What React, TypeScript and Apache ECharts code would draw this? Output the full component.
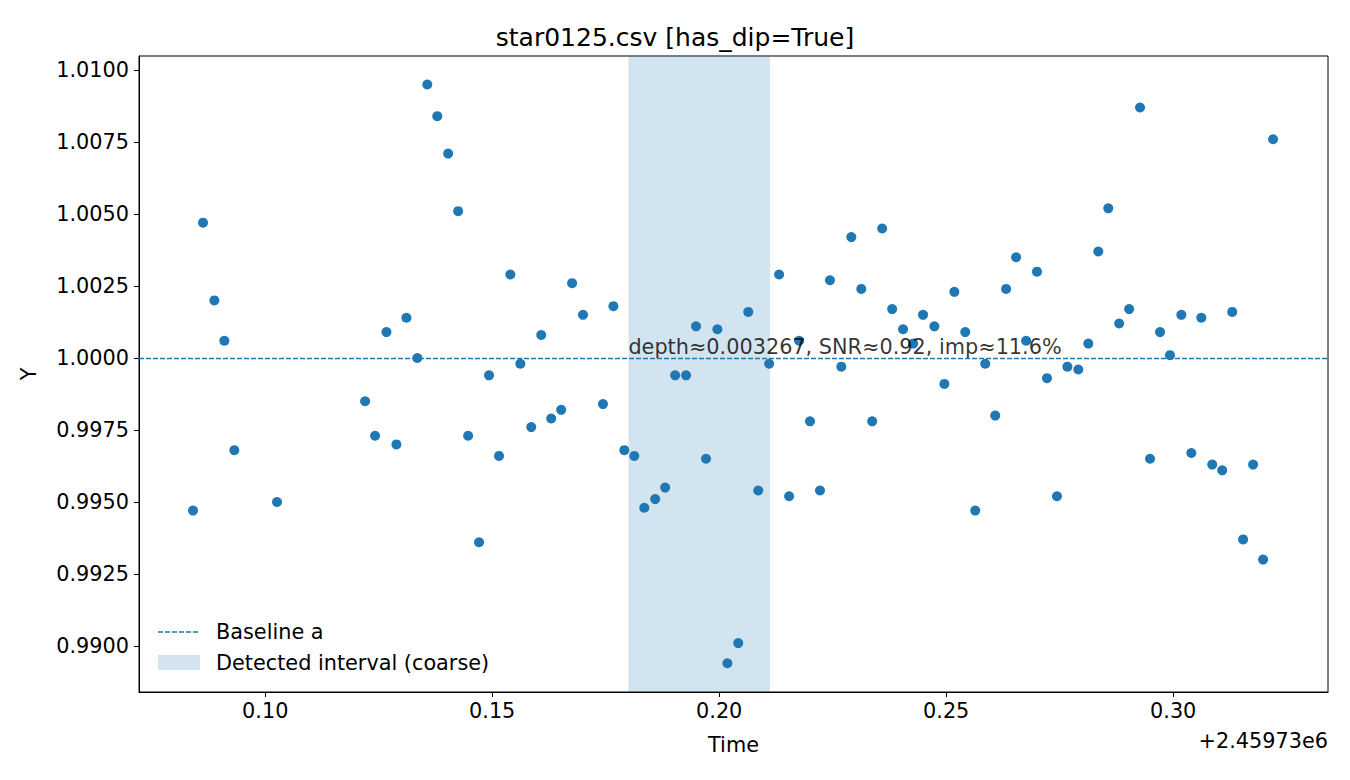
import { useEffect, useRef } from 'react';
import * as echarts from 'echarts';

const timeOffsets = [
  0.0841, 0.0863, 0.0888, 0.0910, 0.0932, 0.1026, 0.1220, 0.1242, 0.1267, 0.1289,
  0.1311, 0.1335, 0.1357, 0.1379, 0.1403, 0.1425, 0.1447, 0.1471, 0.1493, 0.1515,
  0.1540, 0.1562, 0.1586, 0.1608, 0.1630, 0.1652, 0.1676, 0.1700, 0.1744, 0.1767,
  0.1791, 0.1813, 0.1835, 0.1859, 0.1881, 0.1903, 0.1927, 0.1949, 0.1971, 0.1996,
  0.2018, 0.2042, 0.2064, 0.2086, 0.2110, 0.2132, 0.2154, 0.2176, 0.2200, 0.2222,
  0.2244, 0.2269, 0.2291, 0.2313, 0.2337, 0.2359, 0.2381, 0.2405, 0.2427, 0.2449,
  0.2474, 0.2496, 0.2518, 0.2542, 0.2564, 0.2586, 0.2608, 0.2632, 0.2654, 0.2676,
  0.2700, 0.2722, 0.2744, 0.2767, 0.2791, 0.2813, 0.2835, 0.2857, 0.2881, 0.2903,
  0.2927, 0.2949, 0.2971, 0.2993, 0.3018, 0.3040, 0.3062, 0.3086, 0.3108, 0.3130,
  0.3154, 0.3176, 0.3198, 0.3220,
];
const fluxValues = [
  0.9947, 1.0047, 1.0020, 1.0006, 0.9968, 0.9950, 0.9985, 0.9973, 1.0009, 0.9970,
  1.0014, 1.0000, 1.0095, 1.0084, 1.0071, 1.0051, 0.9973, 0.9936, 0.9994, 0.9966,
  1.0029, 0.9998, 0.9976, 1.0008, 0.9979, 0.9982, 1.0026, 1.0015, 0.9984, 1.0018,
  0.9968, 0.9966, 0.9948, 0.9951, 0.9955, 0.9994, 0.9994, 1.0011, 0.9965, 1.0010,
  0.9894, 0.9901, 1.0016, 0.9954, 0.9998, 1.0029, 0.9952, 1.0006, 0.9978, 0.9954,
  1.0027, 0.9997, 1.0042, 1.0024, 0.9978, 1.0045, 1.0017, 1.0010, 1.0005, 1.0015,
  1.0011, 0.9991, 1.0023, 1.0009, 0.9947, 0.9998, 0.9980, 1.0024, 1.0035, 1.0006,
  1.0030, 0.9993, 0.9952, 0.9997, 0.9996, 1.0005, 1.0037, 1.0052, 1.0012, 1.0017,
  1.0087, 0.9965, 1.0009, 1.0001, 1.0015, 0.9967, 1.0014, 0.9963, 0.9961, 1.0016,
  0.9937, 0.9963, 0.9930, 1.0076,
];
const xTicks = [0.10, 0.15, 0.20, 0.25, 0.30];
const yTicks = [0.99, 0.9925, 0.995, 0.9975, 1.0, 1.0025, 1.005, 1.0075, 1.01];
const baseline = 1.0;
const interval = [0.1800, 0.2112];
const annotation = 'depth≈0.003267, SNR≈0.92, imp≈11.6%';

const BLUE = '#1f77b4';
const FONT = 'DejaVu Sans';
const FS = 20.8;

export default function App() {
  const chartRef = useRef<HTMLDivElement>(null);

  useEffect(() => {
    document.body.style.margin = '0';
    if (!chartRef.current) return;
    const chart = echarts.init(chartRef.current, null, { renderer: 'svg' });

    const option: any = {
      animation: false,
      textStyle: { fontFamily: FONT },
      title: {
        text: 'star0125.csv [has_dip=True]',
        left: 'center',
        top: 20,
        textStyle: { fontFamily: FONT, fontSize: 25, fontWeight: 'normal', color: '#000' },
      },
      grid: { left: 139, top: 56, width: 1189, height: 636 },
      xAxis: {
        type: 'value',
        min: 0.0722,
        max: 0.3341,
        name: 'Time',
        nameLocation: 'middle',
        nameGap: 42,
        nameTextStyle: { fontFamily: FONT, fontSize: FS, color: '#000' },
        splitLine: { show: false },
        axisLine: { onZero: false, lineStyle: { color: '#000' } },
        axisTick: { customValues: xTicks, length: 5, lineStyle: { color: '#000' } },
        axisLabel: {
          customValues: xTicks,
          formatter: (v: number) => v.toFixed(2),
          fontFamily: FONT, fontSize: FS, color: '#000', margin: 8,
        },
      },
      yAxis: {
        type: 'value',
        min: 0.9884,
        max: 1.01049,
        name: 'Y',
        nameLocation: 'middle',
        nameGap: 100,
        nameTextStyle: { fontFamily: FONT, fontSize: FS, color: '#000' },
        splitLine: { show: false },
        axisLine: { show: true, onZero: false, lineStyle: { color: '#000' } },
        axisTick: { show: true, customValues: yTicks, length: 5, lineStyle: { color: '#000' } },
        axisLabel: {
          customValues: yTicks,
          formatter: (v: number) => v.toFixed(4),
          fontFamily: FONT, fontSize: FS, color: '#000', margin: 10,
        },
      },
      series: [
        {
          type: 'line',
          data: [],
          markArea: {
            silent: true,
            itemStyle: { color: 'rgba(31,119,180,0.2)' },
            data: [[{ xAxis: interval[0] }, { xAxis: interval[1] }]],
          },
          markLine: {
            silent: true,
            symbol: 'none',
            label: { show: false },
            lineStyle: { color: BLUE, type: [5, 2], width: 1.3 },
            data: [{ yAxis: baseline }],
          },
        },
        {
          type: 'scatter',
          symbolSize: 10,
          itemStyle: { color: BLUE, opacity: 1 },
          data: timeOffsets.map((t, i) => [t, fluxValues[i]]),
          z: 3,
        },
        {
          type: 'scatter',
          symbolSize: 0,
          data: [[interval[0], baseline]],
          label: {
            show: true,
            position: 'right',
            distance: 0,
            formatter: annotation,
            offset: [0, -11],
            fontFamily: FONT,
            fontSize: FS,
            color: '#000',
          },
          z: 4,
        },
      ],
      graphic: [
        {
          type: 'rect',
          shape: { x: 139, y: 56, width: 1189, height: 636 },
          style: { fill: 'none', stroke: '#000', lineWidth: 1 },
          silent: true,
        },
        {
          type: 'text',
          x: 1328,
          y: 741,
          style: { text: '+2.45973e6', fontFamily: FONT, fontSize: FS, fill: '#000', align: 'right', verticalAlign: 'middle' },
        },
        {
          type: 'line',
          shape: { x1: 158, y1: 632, x2: 200, y2: 632 },
          style: { stroke: BLUE, lineWidth: 1.3, lineDash: [5, 2] },
        },
        {
          type: 'text',
          x: 216,
          y: 632,
          style: { text: 'Baseline a', fontFamily: FONT, fontSize: FS, fill: '#000', verticalAlign: 'middle' },
        },
        {
          type: 'rect',
          shape: { x: 158, y: 655, width: 42, height: 15 },
          style: { fill: 'rgba(31,119,180,0.2)' },
        },
        {
          type: 'text',
          x: 216,
          y: 663,
          style: { text: 'Detected interval (coarse)', fontFamily: FONT, fontSize: FS, fill: '#000', verticalAlign: 'middle' },
        },
      ],
    };

    chart.setOption(option);
    return () => {
      chart.dispose();
    };
  }, []);

  return <div ref={chartRef} style={{ width: 1350, height: 780 }} />;
}
